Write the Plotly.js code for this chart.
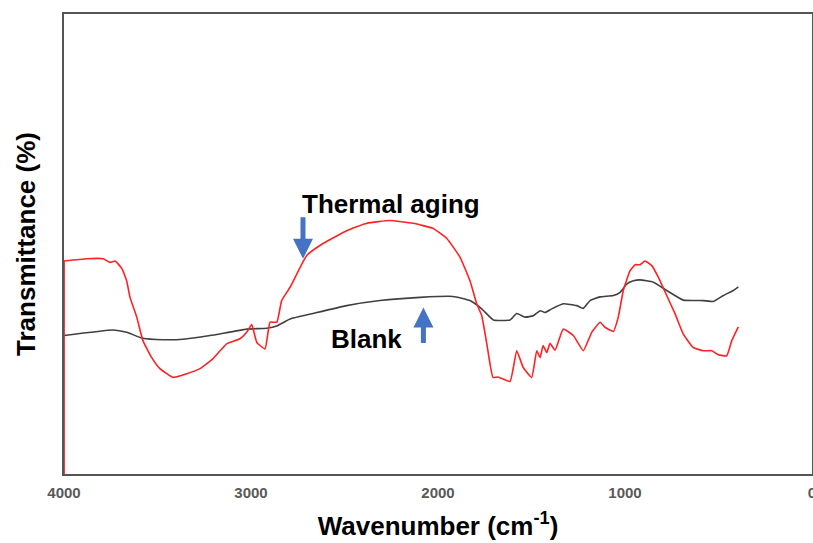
<!DOCTYPE html>
<html>
<head>
<meta charset="utf-8">
<script src="https://cdn.plot.ly/plotly-3.0.1.min.js"></script>
<style>html,body{margin:0;padding:0;background:#fff;}#chart{width:813px;height:543px;}</style>
</head>
<body>
<div id="chart"></div>
<script>
// Thermal aging spectrum (wavenumber in cm-1, transmittance in arbitrary %)
const agingWavenumber = [4000, 4000, 3879, 3791, 3754, 3727, 3691, 3665, 3647, 3611, 3578, 3531, 3487, 3417, 3344, 3273, 3203, 3130, 3059, 3023, 2996, 2969, 2925, 2898, 2862, 2836, 2791, 2702, 2615, 2488, 2381, 2257, 2134, 2027, 1953, 1882, 1829, 1793, 1766, 1739, 1706, 1679, 1615, 1579, 1545, 1499, 1472, 1454, 1438, 1418, 1401, 1374, 1330, 1276, 1223, 1178, 1133, 1107, 1062, 1036, 1009, 973, 946, 920, 893, 857, 822, 777, 732, 688, 635, 581, 536, 501, 456, 429, 394];
const agingTransmittance = [0, 46.3, 46.8, 46.8, 46.0, 46.3, 44.7, 42.0, 38.4, 34.1, 29.0, 25.3, 22.9, 21.0, 21.8, 22.9, 25.1, 28.3, 29.4, 30.8, 32.5, 28.6, 27.2, 33.0, 33.0, 37.7, 40.6, 47.5, 50.1, 52.9, 54.5, 55.1, 54.5, 53.4, 51.2, 47.1, 42.0, 37.0, 34.4, 28.3, 21.0, 21.1, 20.1, 26.8, 23.2, 21.0, 26.8, 25.3, 27.9, 26.4, 28.4, 26.9, 31.5, 30.1, 26.8, 30.8, 33.0, 31.9, 31.0, 34.1, 39.9, 44.2, 45.5, 45.5, 46.3, 45.3, 42.8, 38.8, 34.8, 30.4, 27.5, 26.8, 26.8, 25.9, 25.7, 29.0, 32.0];

// Blank spectrum
const blankWavenumber = [4000, 3738, 3665, 3578, 3471, 3364, 3219, 3023, 2916, 2862, 2791, 2668, 2488, 2310, 2096, 1920, 1829, 1766, 1704, 1615, 1579, 1535, 1490, 1454, 1428, 1392, 1330, 1258, 1223, 1187, 1133, 1062, 1026, 991, 955, 920, 848, 777, 688, 581, 527, 474, 421, 394];
const blankTransmittance = [30.1, 31.3, 30.8, 29.5, 29.2, 29.3, 30.1, 31.5, 31.7, 32.2, 33.7, 34.9, 36.6, 37.7, 38.4, 38.6, 37.7, 35.9, 33.5, 33.5, 34.9, 34.1, 34.4, 35.5, 35.1, 35.9, 37.0, 36.6, 36.0, 37.7, 38.5, 38.8, 39.5, 41.3, 42.0, 42.2, 41.7, 39.9, 37.8, 37.7, 37.5, 38.8, 39.9, 40.7];

const xTickValues = [4000, 3000, 2000, 1000, 0];
const xTickLabels = ['4000', '3000', '2000', '1000', '0'];

const RED = '#FF2222';
const traces = [
  {x: blankWavenumber, y: blankTransmittance, mode: 'lines', name: 'Blank',
   line: {color: '#404040', width: 1.6, shape: 'spline', smoothing: 0.4}},
  // vertical start of the thermal-aging record (first two points, straight)
  {x: agingWavenumber.slice(0, 2), y: agingTransmittance.slice(0, 2), mode: 'lines', name: 'Thermal aging start',
   line: {color: RED, width: 1.8}, cliponaxis: false},
  {x: agingWavenumber.slice(1), y: agingTransmittance.slice(1), mode: 'lines', name: 'Thermal aging',
   line: {color: RED, width: 1.6, shape: 'spline', smoothing: 0.4}}
];

const FONT = 'Liberation Sans, Arial, sans-serif';

const layout = {
  width: 813, height: 543,
  margin: {l: 64, r: 1, t: 14, b: 69},
  paper_bgcolor: '#ffffff', plot_bgcolor: '#ffffff',
  showlegend: false,
  font: {family: FONT},
  xaxis: {
    range: [4000, 0], autorange: false,
    tickvals: xTickValues, ticktext: xTickLabels,
    ticks: '', showgrid: false, zeroline: false,
    ticklabeloverflow: 'allow', ticklabelstandoff: 4,
    showline: true, mirror: true, linecolor: '#555555', linewidth: 2, layer: 'below traces',
    tickfont: {size: 15, color: '#595959', family: FONT, weight: 'bold'},
    title: {text: '<b>Wavenumber (cm<sup>-1</sup>)</b>', font: {size: 26, color: '#000', family: FONT}, standoff: 17}
  },
  yaxis: {
    range: [0, 100], autorange: false,
    showticklabels: false, ticks: '', showgrid: false, zeroline: false,
    showline: true, mirror: true, linecolor: '#555555', linewidth: 2, layer: 'below traces',
    title: {text: '<b>Transmittance (%)</b>', font: {size: 26, color: '#000', family: FONT}, standoff: 19}
  },
  annotations: [
    {x: 2249, y: 58.6, xref: 'x', yref: 'y', text: '<b>Thermal aging</b>', showarrow: false,
     font: {size: 26, color: '#000', family: FONT}, xanchor: 'center', yanchor: 'middle'},
    {x: 2722, y: 46.8, xref: 'x', yref: 'y', text: '', showarrow: true,
     ax: 0, ay: -43, arrowhead: 2, arrowsize: 0.8, arrowwidth: 5, arrowcolor: '#4472C4'},
    {x: 2382, y: 29.3, xref: 'x', yref: 'y', text: '<b>Blank</b>', showarrow: false,
     font: {size: 26, color: '#000', family: FONT}, xanchor: 'center', yanchor: 'middle'},
    {x: 2078, y: 36.2, xref: 'x', yref: 'y', text: '', showarrow: true,
     ax: 0, ay: 37, arrowhead: 2, arrowsize: 0.8, arrowwidth: 5, arrowcolor: '#4472C4'}
  ]
};

Plotly.newPlot('chart', traces, layout, {displayModeBar: false, staticPlot: true});
</script>
</body>
</html>
